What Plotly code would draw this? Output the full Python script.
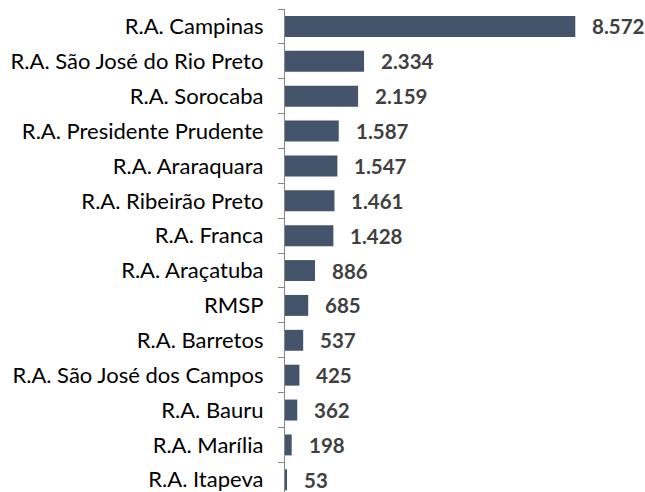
import plotly.graph_objects as go

categories = ["R.A. Campinas", "R.A. São José do Rio Preto", "R.A. Sorocaba",
              "R.A. Presidente Prudente", "R.A. Araraquara", "R.A. Ribeirão Preto",
              "R.A. Franca", "R.A. Araçatuba", "RMSP", "R.A. Barretos",
              "R.A. São José dos Campos", "R.A. Bauru", "R.A. Marília", "R.A. Itapeva"]
values = [8572, 2334, 2159, 1587, 1547, 1461, 1428, 886, 685, 537, 425, 362, 198, 53]
value_labels = ["8.572", "2.334", "2.159", "1.587", "1.547", "1.461", "1.428",
                "886", "685", "537", "425", "362", "198", "53"]

FONT = "Lato, Carlito, Calibri, sans-serif"

fig = go.Figure(go.Bar(
    x=values, y=categories, orientation="h",
    marker=dict(color="#44546A", line=dict(width=0)),
    hoverinfo="skip",
))

annotations = [dict(x=v, y=c, text=f"<b>{t}</b>", xref="x", yref="y",
                    xanchor="left", yanchor="middle", showarrow=False, xshift=15,
                    font=dict(family=FONT, size=20.5, color="#404040"))
               for v, c, t in zip(values, categories, value_labels)]

fig.update_layout(
    width=645, height=492,
    margin=dict(l=285, r=0, t=9, b=0, pad=0),
    paper_bgcolor="white", plot_bgcolor="white",
    bargap=0.40, showlegend=False,
    annotations=annotations,
    xaxis=dict(range=[0, 10630], visible=False, showgrid=False, zeroline=False),
    yaxis=dict(type="category", categoryorder="array", categoryarray=categories,
               range=[13.35, -0.5], showline=True, linecolor="#868686", linewidth=1.3,
               ticks="outside", tickson="boundaries", ticklen=6, tickcolor="#868686",
               tickwidth=1.3, showgrid=False, automargin=False, ticklabelstandoff=16,
               tickfont=dict(family=FONT, size=22, color="#000000")),
)

fig.write_html("out.html", config={"displayModeBar": False},
               post_script="document.body.style.margin='0';")
